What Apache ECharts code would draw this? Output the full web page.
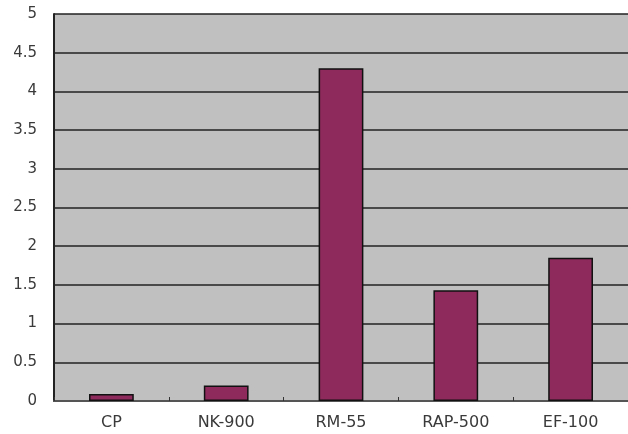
<!DOCTYPE html>
<html>
<head>
<meta charset="utf-8">
<style>
  html, body { margin: 0; padding: 0; background: #ffffff; }
  #chart { width: 628px; height: 434px; }
</style>
<script src="https://cdn.jsdelivr.net/npm/echarts@6/dist/echarts.min.js"></script>
</head>
<body>
<div id="chart"></div>
<script>
// Sample names and measured values
const categories = ['CP', 'NK-900', 'RM-55', 'RAP-500', 'EF-100'];
const values = [0.09, 0.2, 4.3, 1.43, 1.85];
const yTicks = [0, 0.5, 1, 1.5, 2, 2.5, 3, 3.5, 4, 4.5, 5];

const chart = echarts.init(document.getElementById('chart'), null, { renderer: 'canvas' });

chart.setOption({
  animation: false,
  backgroundColor: '#ffffff',
  grid: {
    left: 54, right: 0, top: 14, bottom: 33,
    show: true, backgroundColor: '#c0c0c0', borderWidth: 0
  },
  xAxis: {
    type: 'category',
    data: categories,
    axisLine: { show: true, lineStyle: { color: '#555555', width: 2 } },
    axisTick: { show: true, inside: true, length: 4, lineStyle: { color: '#333333' } },
    axisLabel: {
      color: '#3a3a3a', fontFamily: 'DejaVu Sans', fontSize: 16, margin: 14
    },
    splitLine: { show: false }
  },
  yAxis: {
    type: 'value',
    min: yTicks[0],
    max: yTicks[yTicks.length - 1],
    interval: 0.5,
    axisLine: { show: true, lineStyle: { color: '#222222', width: 2 } },
    axisTick: { show: false },
    axisLabel: {
      color: '#3a3a3a', fontFamily: 'DejaVu Sans', fontSize: 15, margin: 17
    },
    splitLine: { show: true, lineStyle: { color: '#222222', width: 1.5 } }
  },
  series: [{
    type: 'bar',
    data: values,
    barWidth: '39%',
    itemStyle: { color: '#8e2a5c', borderColor: '#111111', borderWidth: 1.5 }
  }]
});
</script>
</body>
</html>
